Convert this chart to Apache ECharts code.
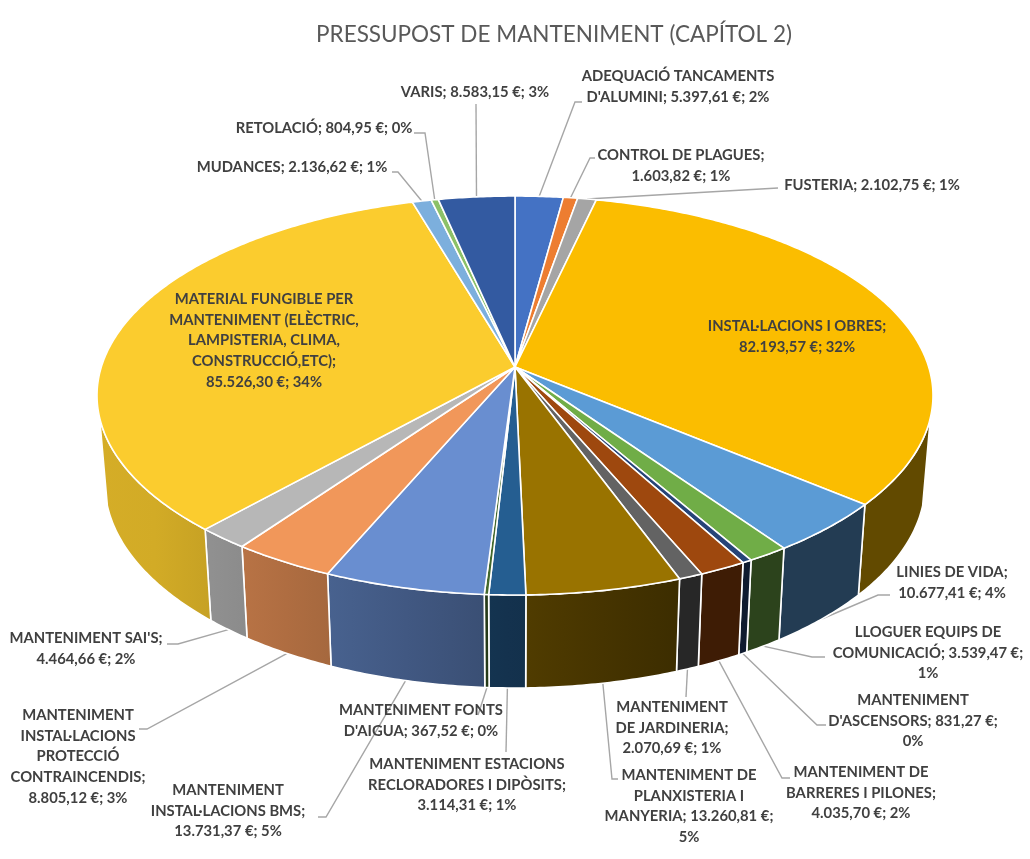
<!DOCTYPE html>
<html><head><meta charset="utf-8">
<style>html,body{margin:0;padding:0;background:#fff}#c{width:1030px;height:859px}</style>
<script src="https://cdn.jsdelivr.net/npm/echarts@6/dist/echarts.min.js"></script>
</head><body><div id="c"></div>
<script>
const categories = ["ADEQUACIÓ TANCAMENTS D'ALUMINI","CONTROL DE PLAGUES","FUSTERIA","INSTAL·LACIONS I OBRES","LINIES DE VIDA","LLOGUER EQUIPS DE COMUNICACIÓ","MANTENIMENT D'ASCENSORS","MANTENIMENT DE BARRERES I PILONES","MANTENIMENT DE JARDINERIA","MANTENIMENT DE PLANXISTERIA I MANYERIA","MANTENIMENT ESTACIONS RECLORADORES I DIPÒSITS","MANTENIMENT FONTS D'AIGUA","MANTENIMENT INSTAL·LACIONS BMS","MANTENIMENT INSTAL·LACIONS PROTECCIÓ CONTRAINCENDIS","MANTENIMENT SAI'S","MATERIAL FUNGIBLE PER MANTENIMENT (ELÈCTRIC, LAMPISTERIA, CLIMA, CONSTRUCCIÓ,ETC)","MUDANCES","RETOLACIÓ","VARIS"];
const values = [5397.61,1603.82,2102.75,82193.57,10677.41,3539.47,831.27,4035.70,2070.69,13260.81,3114.31,367.52,13731.37,8805.12,4464.66,85526.30,2136.62,804.95,8583.15];
const labelTexts = [
"ADEQUACIÓ TANCAMENTS\nD'ALUMINI; 5.397,61 €; 2%",
"CONTROL DE PLAGUES;\n1.603,82 €; 1%",
"FUSTERIA; 2.102,75 €; 1%",
"INSTAL·LACIONS I OBRES;\n82.193,57 €; 32%",
"LINIES DE VIDA;\n10.677,41 €; 4%",
"LLOGUER EQUIPS DE\nCOMUNICACIÓ; 3.539,47 €;\n1%",
"MANTENIMENT\nD'ASCENSORS; 831,27 €;\n0%",
"MANTENIMENT DE\nBARRERES I PILONES;\n4.035,70 €; 2%",
"MANTENIMENT\nDE JARDINERIA;\n2.070,69 €; 1%",
"MANTENIMENT DE\nPLANXISTERIA I\nMANYERIA; 13.260,81 €;\n5%",
"MANTENIMENT ESTACIONS\nRECLORADORES I DIPÒSITS;\n3.114,31 €; 1%",
"MANTENIMENT FONTS\nD'AIGUA; 367,52 €; 0%",
"MANTENIMENT\nINSTAL·LACIONS BMS;\n13.731,37 €; 5%",
"MANTENIMENT\nINSTAL·LACIONS\nPROTECCIÓ\nCONTRAINCENDIS;\n8.805,12 €; 3%",
"MANTENIMENT SAI'S;\n4.464,66 €; 2%",
"MATERIAL FUNGIBLE PER\nMANTENIMENT (ELÈCTRIC,\nLAMPISTERIA, CLIMA,\nCONSTRUCCIÓ,ETC);\n85.526,30 €; 34%",
"MUDANCES; 2.136,62 €; 1%",
"RETOLACIÓ; 804,95 €; 0%",
"VARIS; 8.583,15 €; 3%"];
const colors = ["#4472C4","#ED7D31","#A5A5A5","#FBBD00","#5B9BD5","#70AD47","#264478","#9E480E","#636363","#997300","#255E91","#43682B","#698ED0","#F1975A","#B7B7B7","#FBCC2E","#7CAFDD","#8CC168","#335AA1"];
const titleText = "PRESSUPOST DE MANTENIMENT (CAPÍTOL 2)";

// layout (label centre x, first-line centre y)
const labelPos = [[678,76],[681,155],[872,185],[797,326],[952,572],[928,632],[913,700],[861,772],[672,707],[689,775],[467,764],[421,710],[228,790],[78,715],[86,638],[264,299],[292,167],[324,128],[475,92]];
// leader line points after the start on the pie (null = no leader)
const leaderPts = [[[575,102],[582,102]],[[590,158],[595,158]],[[778,188]],null,[[878,595],[890,595]],[[812,657],[825,657]],[[817,725],[826,725]],[[782,778],[790,778]],[[686,697]],[[612,779],[618,779]],[[506,752]],[[478,715]],[[326,817],[318,817]],[[147,729],[139,729]],[[178,644],[167,644]],null,[[398,172],[392,172]],[[425,133],[414,133]],[[476,104]]];
// leaders that leave from the upper rim rather than the lower one
const fromTop = [0,1,2,16,17,18];

const CX=515, CY=367, A=413.7, B=195.4, P=1/7, CY2=453.5, A2=406, B2=201, VMIN=0.25, LH=20.8;
const total = values.reduce((a,b)=>a+b,0);
const cum=[0]; values.forEach(v=>cum.push(cum[cum.length-1]+v));
const ang = i => cum[i]/total*2*Math.PI;
function rim(t, lower){
  const u=Math.sin(t), v=-Math.cos(t), k=1/(1-P*v);
  return lower ? [CX+A2*u*k, CY2+B2*v*k] : [CX+A*u*k, CY+B*v*k];
}
function arc(a,b,lower){
  const n=Math.max(2,Math.ceil((b-a)/0.01)), out=[];
  for(let j=0;j<=n;j++) out.push(rim(a+(b-a)*j/n,lower));
  return out;
}
function shade(hex,f){
  const n=parseInt(hex.slice(1),16);
  return 'rgb('+[(n>>16)&255,(n>>8)&255,n&255].map(c=>Math.round(c*f)).join(',')+')';
}
const fAt = x => Math.min(0.85,Math.max(0.39,0.39+(680-x)*0.00085));
const tLimit = Math.acos(VMIN);
const W0 = Math.PI - tLimit, W1 = Math.PI + tLimit;

function renderTop(p,api){
  const i=p.dataIndex;
  const pts=[[CX,CY]].concat(arc(ang(i),ang(i+1),false));
  return {type:'polygon',shape:{points:pts},style:{fill:colors[i],stroke:'#fff',lineWidth:1.6,lineJoin:'round'}};
}
function renderWall(p,api){
  const i=p.dataIndex, a=Math.max(ang(i),W0), b=Math.min(ang(i+1),W1);
  if(b<=a) return {type:'group',children:[]};
  const up=arc(a,b,false), lo=arc(a,b,true).reverse(), pts=up.concat(lo);
  const xs=pts.map(q=>q[0]), x0=Math.min(...xs), x1=Math.max(...xs);
  return {type:'polygon',shape:{points:pts},style:{
    fill:{type:'linear',x:0,y:0,x2:1,y2:0,colorStops:[
      {offset:0,color:shade(colors[i],fAt(x0))},
      {offset:0.5,color:shade(colors[i],fAt((x0+x1)/2))},
      {offset:1,color:shade(colors[i],fAt(x1))}]},
    stroke:'#fff',lineWidth:1.6,lineJoin:'round'}};
}
function renderLeader(p,api){
  const i=p.dataIndex, rest=leaderPts[i];
  if(!rest) return {type:'group',children:[]};
  const mid=(ang(i)+ang(i+1))/2;
  const pts=[rim(mid,!fromTop.includes(i))].concat(rest);
  return {type:'polyline',shape:{points:pts},style:{fill:null,stroke:'#A6A6A6',lineWidth:1.4}};
}
function renderLabel(p,api){
  const i=p.dataIndex;
  return {type:'text',style:{text:labelTexts[i],x:labelPos[i][0],y:labelPos[i][1]-LH/2,align:'center',verticalAlign:'top',
    font:'bold 14.8px Lato',lineHeight:LH,fill:'#404040'}};
}
const seriesData = values.map((v,i)=>({name:categories[i],value:[v]}));
const mk=(fn,z)=>({type:'custom',coordinateSystem:'none',renderItem:fn,data:seriesData,z:z,silent:true,animation:false,clip:false});
const chart=echarts.init(document.getElementById('c'),null,{renderer:'canvas'});
chart.setOption({
  animation:false,backgroundColor:'#fff',
  title:{text:titleText,left:549,top:18,textAlign:'center',
    textStyle:{fontFamily:'Lato',fontWeight:'normal',fontSize:22.5,color:'#595959'}},
  series:[mk(renderLeader,1),mk(renderWall,2),mk(renderTop,3),mk(renderLabel,4)]
});
</script></body></html>
